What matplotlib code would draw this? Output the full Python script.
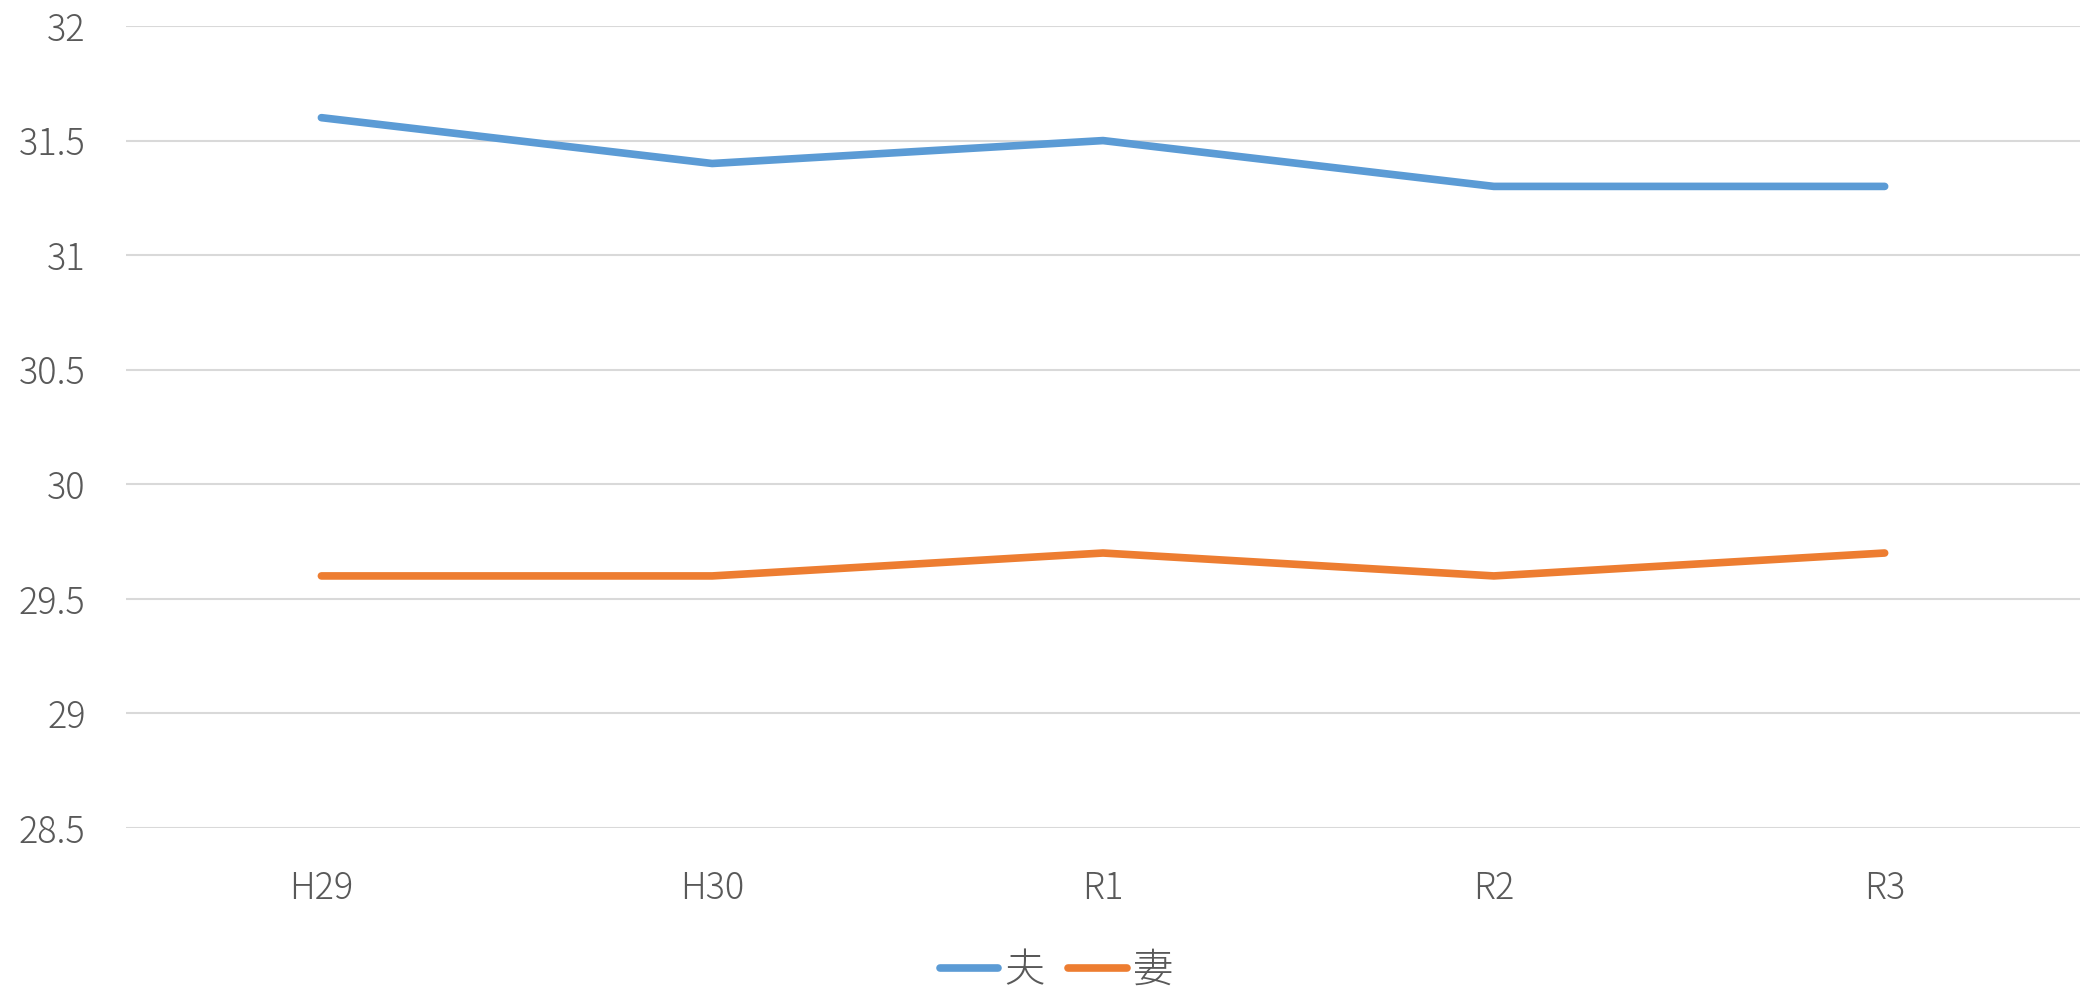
import matplotlib
matplotlib.use("Agg")
import matplotlib.pyplot as plt

plt.rcParams['font.family'] = ['Noto Sans CJK JP', 'DejaVu Sans']
plt.rcParams['font.weight'] = 'light'

# データ
nendo = ["H29", "H30", "R1", "R2", "R3"]
otto = [31.6, 31.4, 31.5, 31.3, 31.3]
tsuma = [29.6, 29.6, 29.7, 29.6, 29.7]
yticks = [28.5, 29, 29.5, 30, 30.5, 31, 31.5, 32]

textColor = "#595959"

fig = plt.figure(figsize=(21, 9.93), dpi=100)
ax = fig.add_axes([0.06, 0.1662, 0.9305, 0.8076])

x = range(len(nendo))
ax.plot(x, otto, color="#5B9BD5", linewidth=5.5, solid_capstyle="round", solid_joinstyle="round", label="夫")
ax.plot(x, tsuma, color="#ED7D31", linewidth=5.5, solid_capstyle="round", solid_joinstyle="round", label="妻")

ax.set_xlim(-0.5, len(nendo) - 0.5)
ax.set_ylim(28.5, 32)
ax.set_yticks(yticks)
ax.set_yticklabels([f"{v:g}" for v in yticks])
ax.set_xticks(list(x))
ax.set_xticklabels(nendo)

ax.grid(axis="y", color="#D9D9D9", linewidth=1.5)
ax.set_axisbelow(True)
for s in ax.spines.values():
    s.set_visible(False)
ax.tick_params(axis="both", length=0, labelsize=26, labelcolor=textColor)
ax.tick_params(axis="y", pad=29)
ax.tick_params(axis="x", pad=30)

leg = fig.legend(loc="center", bbox_to_anchor=(0.503, 0.022), ncol=2, frameon=False,
                 fontsize=29, handlelength=1.45, handletextpad=0.15, columnspacing=0.6)
for t in leg.get_texts():
    t.set_color(textColor)

fig.savefig("out.png", dpi=100)
